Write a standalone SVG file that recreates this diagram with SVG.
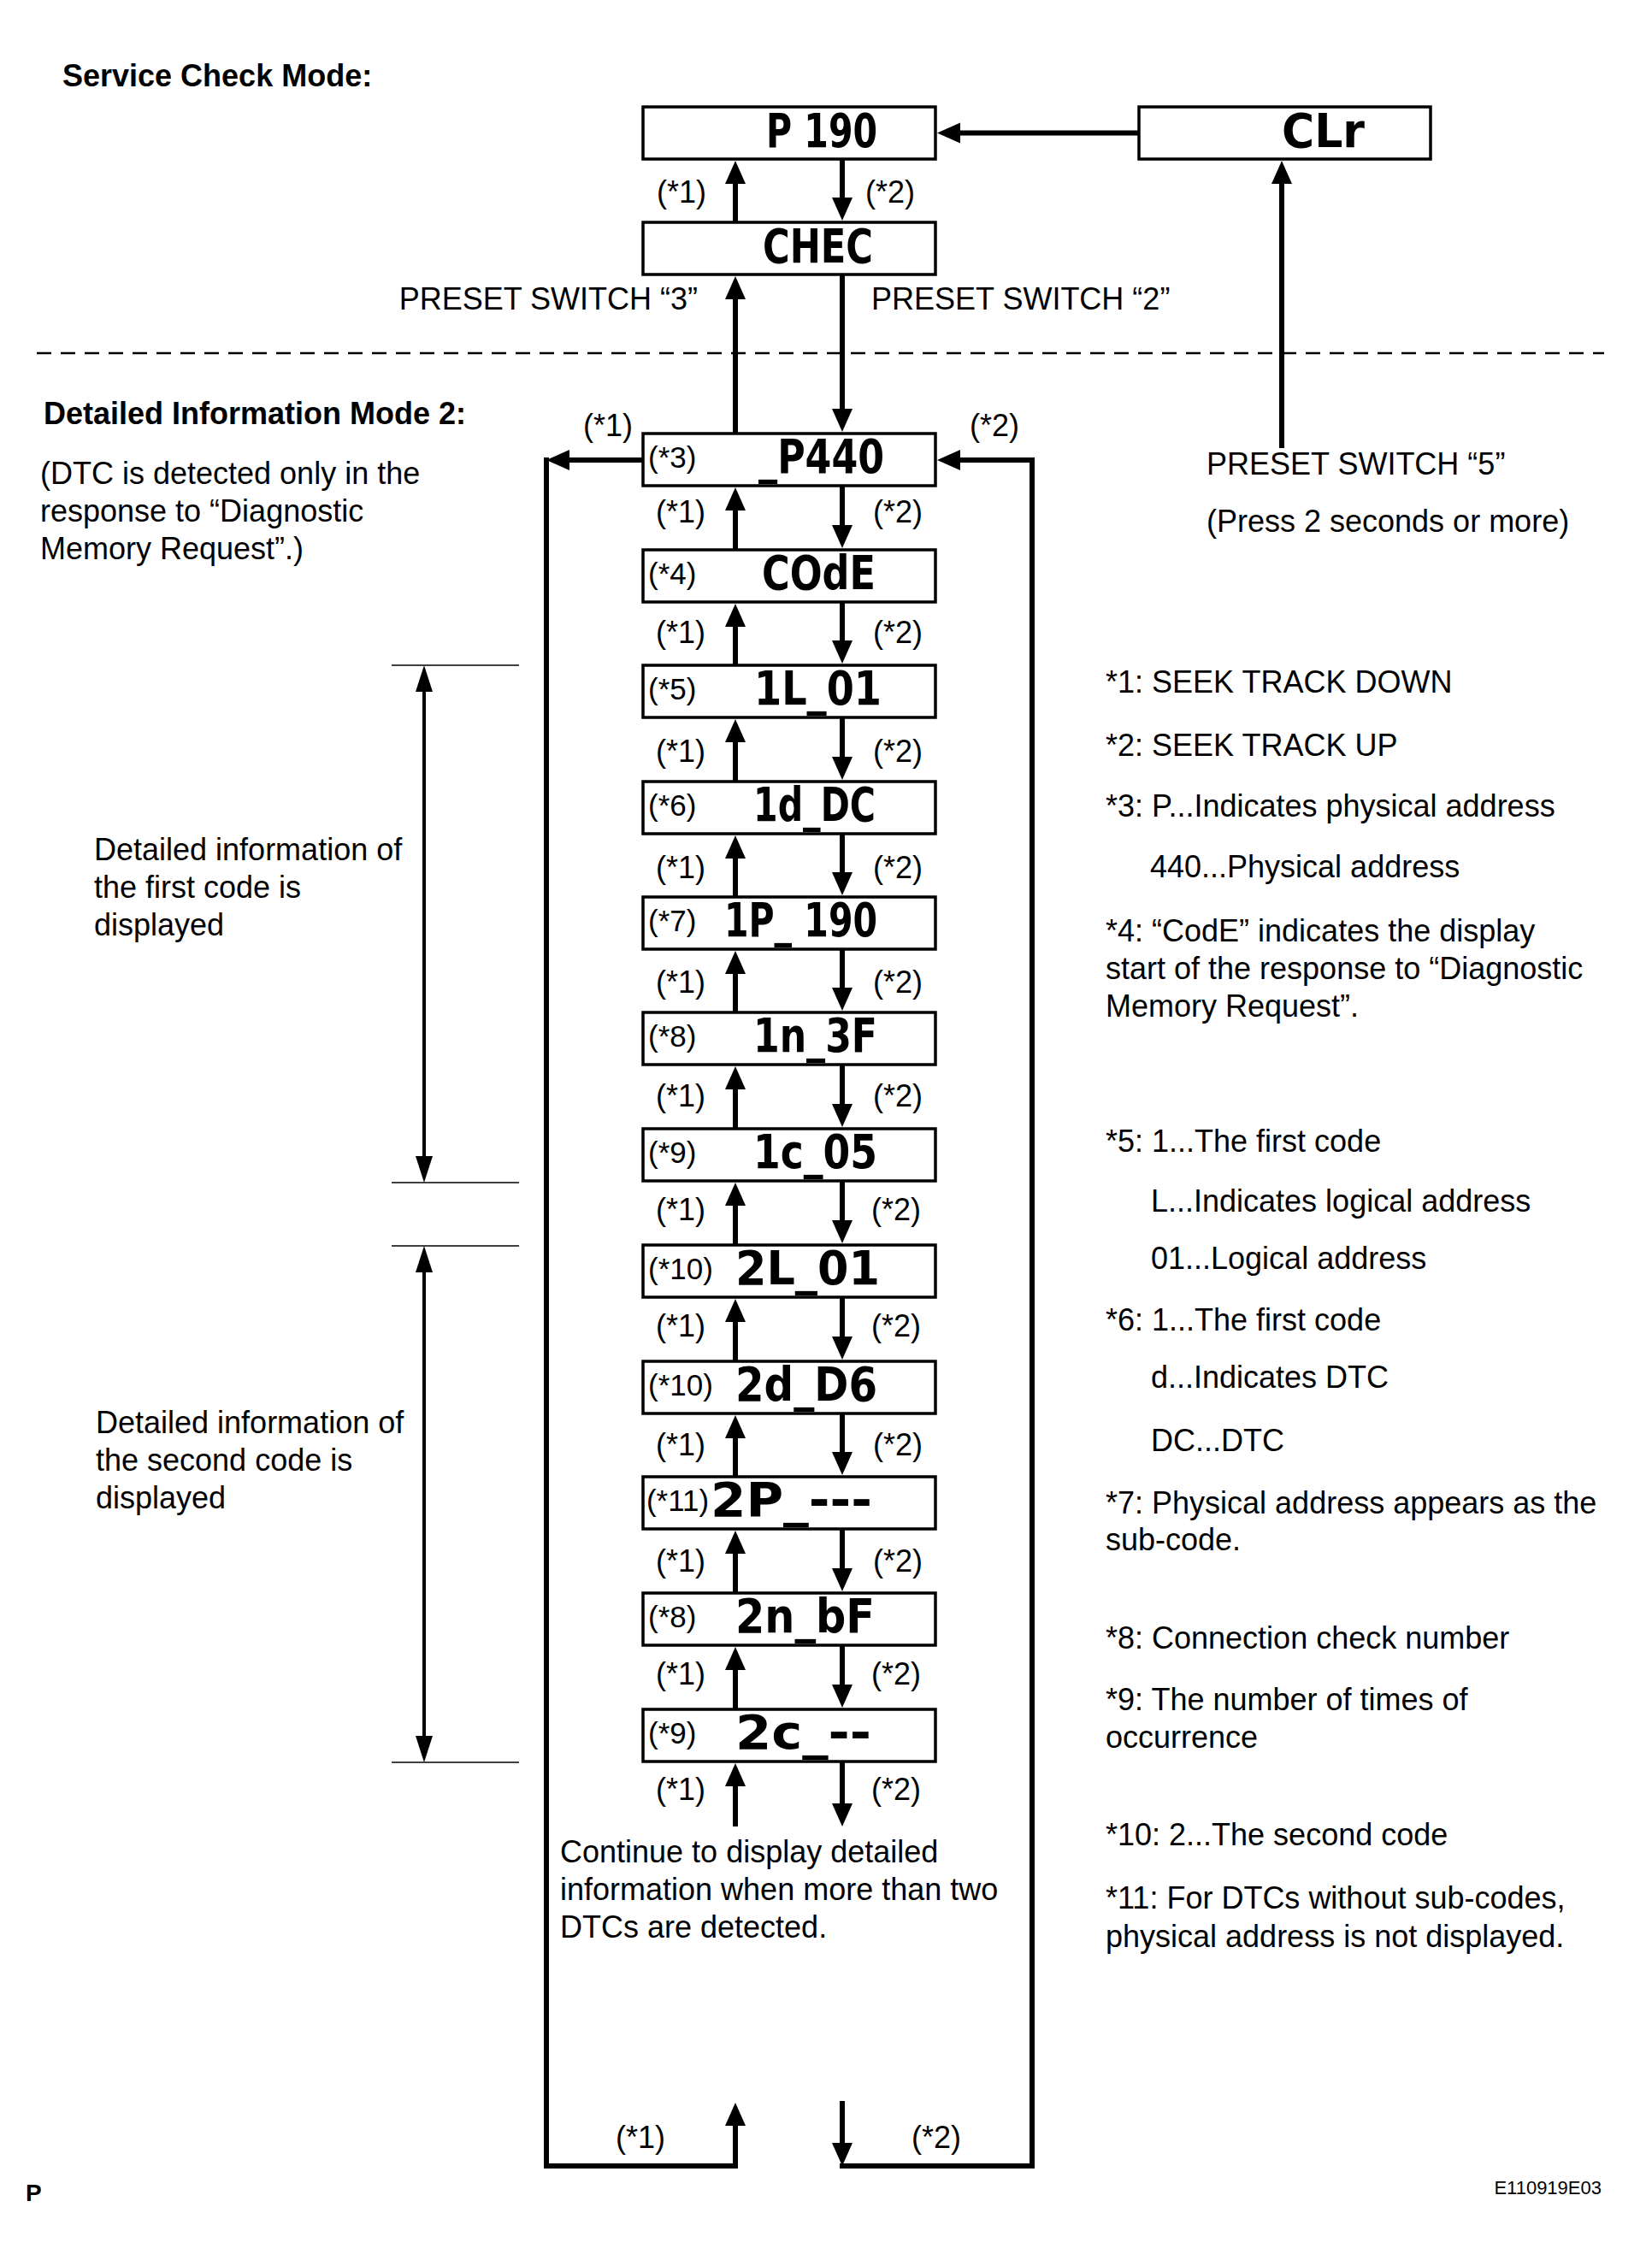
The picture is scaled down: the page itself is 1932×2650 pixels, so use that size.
<svg xmlns="http://www.w3.org/2000/svg" width="1932" height="2650" viewBox="0 0 1932 2650">
<style>
.bg{fill:#fff}
.box{fill:#fff;stroke:#000;stroke-width:3.5}
.t{font-family:"Liberation Sans",Arial,sans-serif;font-size:36px;fill:#000}
.b{font-family:"Liberation Sans",Arial,sans-serif;font-size:36px;font-weight:bold;fill:#000}
.tag{font-family:"Liberation Sans",Arial,sans-serif;font-size:35px;fill:#000}
.lcd{font-family:"Liberation Sans Narrow","DejaVu Sans Condensed","Liberation Sans",sans-serif;font-size:56px;font-weight:bold;fill:#000}
.c{stroke:#000;stroke-width:6;fill:none}
.thin{stroke:#000;stroke-width:1.6;fill:none}
.dim{stroke:#000;stroke-width:4;fill:none}
.dash{stroke:#000;stroke-width:2.6;stroke-dasharray:17 11;fill:none}
</style>
<defs>
<marker id="ah" markerUnits="userSpaceOnUse" markerWidth="28" markerHeight="26" refX="0" refY="12" orient="auto" overflow="visible"><path d="M-1,0 L26,12 L-1,24 Z" fill="#000"/></marker>
<marker id="dh" markerUnits="userSpaceOnUse" markerWidth="32" markerHeight="22" refX="0" refY="10" orient="auto-start-reverse" overflow="visible"><path d="M-1,0 L30,10 L-1,20 Z" fill="#000"/></marker>
</defs>
<rect class="bg" x="0" y="0" width="1932" height="2650"/>

<g id="labels">
<text class="b" x="73" y="101">Service Check Mode:</text>
<text class="b" x="51" y="496">Detailed Information Mode 2:</text>
<text class="t" x="816" y="362" text-anchor="end">PRESET SWITCH “3”</text>
<text class="t" x="1019" y="362">PRESET SWITCH “2”</text>
<text class="t" x="1411" y="555">PRESET SWITCH “5”</text>
<text class="t" x="1411" y="622">(Press 2 seconds or more)</text>
<text class="t" x="47" y="566">(DTC is detected only in the</text>
<text class="t" x="47" y="610">response to “Diagnostic</text>
<text class="t" x="47" y="654">Memory Request”.)</text>
<text class="t" x="110" y="1006">Detailed information of</text>
<text class="t" x="110" y="1050">the first code is</text>
<text class="t" x="110" y="1094">displayed</text>
<text class="t" x="112" y="1676">Detailed information of</text>
<text class="t" x="112" y="1720">the second code is</text>
<text class="t" x="112" y="1764">displayed</text>
<text class="t" x="1293" y="810">*1: SEEK TRACK DOWN</text>
<text class="t" x="1293" y="884">*2: SEEK TRACK UP</text>
<text class="t" x="1293" y="955">*3: P...Indicates physical address</text>
<text class="t" x="1345" y="1026">440...Physical address</text>
<text class="t" x="1293" y="1101">*4: “CodE” indicates the display</text>
<text class="t" x="1293" y="1145">start of the response to “Diagnostic</text>
<text class="t" x="1293" y="1189">Memory Request”.</text>
<text class="t" x="1293" y="1347">*5: 1...The first code</text>
<text class="t" x="1346" y="1417">L...Indicates logical address</text>
<text class="t" x="1346" y="1484">01...Logical address</text>
<text class="t" x="1293" y="1556">*6: 1...The first code</text>
<text class="t" x="1346" y="1623">d...Indicates DTC</text>
<text class="t" x="1346" y="1697">DC...DTC</text>
<text class="t" x="1293" y="1770">*7: Physical address appears as the</text>
<text class="t" x="1293" y="1813">sub-code.</text>
<text class="t" x="1293" y="1928">*8: Connection check number</text>
<text class="t" x="1293" y="2000">*9: The number of times of</text>
<text class="t" x="1293" y="2044">occurrence</text>
<text class="t" x="1293" y="2158">*10: 2...The second code</text>
<text class="t" x="1293" y="2232">*11: For DTCs without sub-codes,</text>
<text class="t" x="1293" y="2277">physical address is not displayed.</text>
<text class="t" x="655" y="2178">Continue to display detailed</text>
<text class="t" x="655" y="2222">information when more than two</text>
<text class="t" x="655" y="2266">DTCs are detected.</text>
<text class="b" x="30" y="2574" style="font-size:28px">P</text>
<text class="t" x="1873" y="2566" text-anchor="end" style="font-size:22px">E110919E03</text>
</g>

<g id="arrow-labels">
<text class="t" x="768" y="237">(*1)</text>
<text class="t" x="1012" y="237">(*2)</text>
<text class="t" x="682" y="510">(*1)</text>
<text class="t" x="1134" y="510">(*2)</text>
<text class="t" x="767" y="611">(*1)</text><text class="t" x="1021" y="611">(*2)</text>
<text class="t" x="767" y="752">(*1)</text><text class="t" x="1021" y="752">(*2)</text>
<text class="t" x="767" y="891">(*1)</text><text class="t" x="1021" y="891">(*2)</text>
<text class="t" x="767" y="1027">(*1)</text><text class="t" x="1021" y="1027">(*2)</text>
<text class="t" x="767" y="1161">(*1)</text><text class="t" x="1021" y="1161">(*2)</text>
<text class="t" x="767" y="1294">(*1)</text><text class="t" x="1021" y="1294">(*2)</text>
<text class="t" x="767" y="1427">(*1)</text><text class="t" x="1019" y="1427">(*2)</text>
<text class="t" x="767" y="1563">(*1)</text><text class="t" x="1019" y="1563">(*2)</text>
<text class="t" x="767" y="1702">(*1)</text><text class="t" x="1021" y="1702">(*2)</text>
<text class="t" x="767" y="1838">(*1)</text><text class="t" x="1021" y="1838">(*2)</text>
<text class="t" x="767" y="1970">(*1)</text><text class="t" x="1019" y="1970">(*2)</text>
<text class="t" x="767" y="2105">(*1)</text><text class="t" x="1019" y="2105">(*2)</text>
<text class="t" x="720" y="2512">(*1)</text>
<text class="t" x="1066" y="2512">(*2)</text>
</g>

<g id="n-p190"><rect class="box" x="752" y="125" width="342" height="61"/><text class="lcd" x="896" y="172" textLength="130" lengthAdjust="spacingAndGlyphs">P 190</text></g>
<g id="n-clr"><rect class="box" x="1332" y="125" width="341" height="61"/><text class="lcd" x="1499" y="172" textLength="97" lengthAdjust="spacingAndGlyphs">CLr</text></g>
<g id="n-chec"><rect class="box" x="752" y="260" width="342" height="61"/><text class="lcd" x="892" y="307" textLength="129" lengthAdjust="spacingAndGlyphs">CHEC</text></g>

<g id="n-p440"><rect class="box" x="752" y="507" width="342" height="61"/><text class="tag" x="758" y="547">(*3)</text><text class="lcd" x="887" y="553" textLength="147" lengthAdjust="spacingAndGlyphs">_P440</text></g>
<g id="n-code"><rect class="box" x="752" y="643" width="342" height="61"/><text class="tag" x="758" y="683">(*4)</text><text class="lcd" x="891" y="689" textLength="133" lengthAdjust="spacingAndGlyphs">COdE</text></g>
<g id="n-1l01"><rect class="box" x="752" y="778" width="342" height="61"/><text class="tag" x="758" y="818">(*5)</text><text class="lcd" x="882" y="824" textLength="149" lengthAdjust="spacingAndGlyphs">1L_01</text></g>
<g id="n-1ddc"><rect class="box" x="752" y="914" width="342" height="61"/><text class="tag" x="758" y="954">(*6)</text><text class="lcd" x="881" y="960" textLength="143" lengthAdjust="spacingAndGlyphs">1d_DC</text></g>
<g id="n-1p190"><rect class="box" x="752" y="1049" width="342" height="61"/><text class="tag" x="758" y="1089">(*7)</text><text class="lcd" x="847" y="1095" textLength="179" lengthAdjust="spacingAndGlyphs">1P_ 190</text></g>
<g id="n-1n3f"><rect class="box" x="752" y="1184" width="342" height="61"/><text class="tag" x="758" y="1224">(*8)</text><text class="lcd" x="881" y="1230" textLength="145" lengthAdjust="spacingAndGlyphs">1n_3F</text></g>
<g id="n-1c05"><rect class="box" x="752" y="1320" width="342" height="61"/><text class="tag" x="758" y="1360">(*9)</text><text class="lcd" x="881" y="1366" textLength="145" lengthAdjust="spacingAndGlyphs">1c_05</text></g>
<g id="n-2l01"><rect class="box" x="752" y="1456" width="342" height="61"/><text class="tag" x="758" y="1496">(*10)</text><text class="lcd" x="860" y="1502" textLength="169" lengthAdjust="spacingAndGlyphs">2L_01</text></g>
<g id="n-2dd6"><rect class="box" x="752" y="1592" width="342" height="61"/><text class="tag" x="758" y="1632">(*10)</text><text class="lcd" x="860" y="1638" textLength="166" lengthAdjust="spacingAndGlyphs">2d_D6</text></g>
<g id="n-2p"><rect class="box" x="752" y="1727" width="342" height="61"/><text class="tag" x="756" y="1767" textLength="73" lengthAdjust="spacingAndGlyphs">(*11)</text><text class="lcd" x="831" y="1773" textLength="189" lengthAdjust="spacingAndGlyphs">2P_---</text></g>
<g id="n-2nbf"><rect class="box" x="752" y="1863" width="342" height="61"/><text class="tag" x="758" y="1903">(*8)</text><text class="lcd" x="860" y="1909" textLength="163" lengthAdjust="spacingAndGlyphs">2n_bF</text></g>
<g id="n-2c"><rect class="box" x="752" y="1999" width="342" height="61"/><text class="tag" x="758" y="2039">(*9)</text><text class="lcd" x="860" y="2045" textLength="159" lengthAdjust="spacingAndGlyphs">2c_--</text></g>

<g id="connectors">
<line class="dash" x1="43" y1="413" x2="1876" y2="413"/>
<line class="c" x1="1332" y1="155.5" x2="1122" y2="155.5" marker-end="url(#ah)"/>
<line class="c" x1="860" y1="259" x2="860" y2="214" marker-end="url(#ah)"/>
<line class="c" x1="985" y1="186" x2="985" y2="232" marker-end="url(#ah)"/>
<line class="c" x1="860" y1="506" x2="860" y2="349" marker-end="url(#ah)"/>
<line class="c" x1="985" y1="321" x2="985" y2="479" marker-end="url(#ah)"/>
<line class="c" x1="1499" y1="524" x2="1499" y2="214" marker-end="url(#ah)"/>

<line class="c" x1="860" y1="642" x2="860" y2="596" marker-end="url(#ah)"/>
<line class="c" x1="985" y1="568" x2="985" y2="615" marker-end="url(#ah)"/>
<line class="c" x1="860" y1="777" x2="860" y2="732" marker-end="url(#ah)"/>
<line class="c" x1="985" y1="704" x2="985" y2="750" marker-end="url(#ah)"/>
<line class="c" x1="860" y1="913" x2="860" y2="867" marker-end="url(#ah)"/>
<line class="c" x1="985" y1="839" x2="985" y2="886" marker-end="url(#ah)"/>
<line class="c" x1="860" y1="1048" x2="860" y2="1003" marker-end="url(#ah)"/>
<line class="c" x1="985" y1="975" x2="985" y2="1021" marker-end="url(#ah)"/>
<line class="c" x1="860" y1="1183" x2="860" y2="1138" marker-end="url(#ah)"/>
<line class="c" x1="985" y1="1110" x2="985" y2="1156" marker-end="url(#ah)"/>
<line class="c" x1="860" y1="1319" x2="860" y2="1273" marker-end="url(#ah)"/>
<line class="c" x1="985" y1="1245" x2="985" y2="1292" marker-end="url(#ah)"/>
<line class="c" x1="860" y1="1455" x2="860" y2="1409" marker-end="url(#ah)"/>
<line class="c" x1="985" y1="1381" x2="985" y2="1428" marker-end="url(#ah)"/>
<line class="c" x1="860" y1="1591" x2="860" y2="1545" marker-end="url(#ah)"/>
<line class="c" x1="985" y1="1517" x2="985" y2="1564" marker-end="url(#ah)"/>
<line class="c" x1="860" y1="1726" x2="860" y2="1681" marker-end="url(#ah)"/>
<line class="c" x1="985" y1="1653" x2="985" y2="1699" marker-end="url(#ah)"/>
<line class="c" x1="860" y1="1862" x2="860" y2="1816" marker-end="url(#ah)"/>
<line class="c" x1="985" y1="1788" x2="985" y2="1835" marker-end="url(#ah)"/>
<line class="c" x1="860" y1="1998" x2="860" y2="1952" marker-end="url(#ah)"/>
<line class="c" x1="985" y1="1924" x2="985" y2="1971" marker-end="url(#ah)"/>
<line class="c" x1="860" y1="2136" x2="860" y2="2088" marker-end="url(#ah)"/>
<line class="c" x1="985" y1="2060" x2="985" y2="2110" marker-end="url(#ah)"/>

<line class="c" x1="752" y1="538" x2="665" y2="538" marker-end="url(#ah)"/>
<path class="c" d="M639,535 V2533 H860 V2485" marker-end="url(#ah)"/>
<line class="c" x1="985" y1="2457" x2="985" y2="2507" marker-end="url(#ah)"/>
<path class="c" d="M982,2533 H1207 V538 H1122" marker-end="url(#ah)"/>

<line class="thin" x1="458" y1="778" x2="607" y2="778"/>
<line class="thin" x1="458" y1="1383" x2="607" y2="1383"/>
<line class="thin" x1="458" y1="1457" x2="607" y2="1457"/>
<line class="thin" x1="458" y1="2061" x2="607" y2="2061"/>
<line class="dim" x1="496" y1="808" x2="496" y2="1353" marker-start="url(#dh)" marker-end="url(#dh)"/>
<line class="dim" x1="496" y1="1487" x2="496" y2="2031" marker-start="url(#dh)" marker-end="url(#dh)"/>
</g>
</svg>
